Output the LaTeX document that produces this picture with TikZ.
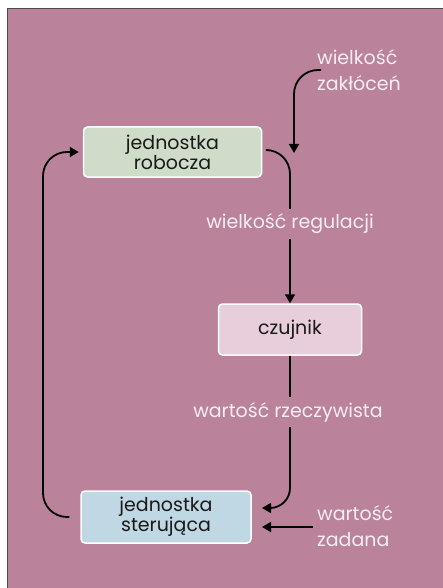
\documentclass[tikz,border=0pt]{standalone}
\usepackage{fontspec}
\setmainfont{Poppins}
\usetikzlibrary{arrows.meta}
\definecolor{bg}{RGB}{187,130,156}
\definecolor{greenbox}{RGB}{207,220,201}
\definecolor{pinkbox}{RGB}{232,205,218}
\definecolor{bluebox}{RGB}{192,216,228}
\definecolor{lbl}{RGB}{246,238,242}
\definecolor{txt}{RGB}{25,25,25}
\tikzset{
  blk/.style={draw=white, line width=1.5pt, rounded corners=4pt, text=txt,
    align=center, font=\fontsize{19}{20}\selectfont, inner sep=0pt},
  lab/.style={text=lbl, align=left, font=\fontsize{19}{26}\selectfont, inner sep=0pt},
  midlab/.style={text=lbl, font=\fontsize{19}{20}\selectfont, fill=bg, inner xsep=2pt, inner ysep=5pt},
  conn/.style={line width=1.8pt, -{Triangle[length=9pt,width=10pt]}, rounded corners=24pt},
}
\begin{document}
\begin{tikzpicture}[x=1pt,y=-1pt]
\useasboundingbox (0,0) rectangle (442,588);
\fill[white] (0,0) rectangle (442,588);
\draw[fill=bg, draw=black!70, line width=0.8pt] (7,8) rectangle (443,589);

\node[blk, fill=greenbox, minimum width=178pt, minimum height=50pt] (rob) at (172.5,152) {jednostka\\robocza};
\node[blk, fill=pinkbox, minimum width=143pt, minimum height=51pt] (czu) at (290,329.5) {czujnik};
\node[blk, fill=bluebox, minimum width=170pt, minimum height=52pt] (ste) at (166,517) {jednostka\\steruj\k{a}ca};

\node[lab, anchor=west] (zak) at (317,70) {wielko\'s\'c\\zak\l{}\'oce\'n};
\node[lab, anchor=west] (zad) at (317,526) {warto\'s\'c\\zadana};

\coordinate (zs) at (321,70);
\coordinate (zt) at (294,153);
\draw[conn] (zs) -| (zt);

\coordinate (rs) at (268,150);
\draw[conn] (rs) -| (czu.north);
\node[midlab] (reg) at (290,224) {wielko\'s\'c regulacji};

\coordinate (st) at (262,508);
\draw[conn, rounded corners=20pt] (czu.south) |- (st);
\node[midlab] (rze) at (288,412) {warto\'s\'c rzeczywista};

\coordinate (zz) at (313,527);
\coordinate (zt2) at (262,527);
\draw[conn] (zz) -- (zt2);

\coordinate (fb) at ([xshift=-11pt]ste.west);
\coordinate (fbx) at (43,300);
\draw[conn] (fb) -| (fbx) |- ([xshift=-4pt]rob.west);
\end{tikzpicture}
\end{document}
